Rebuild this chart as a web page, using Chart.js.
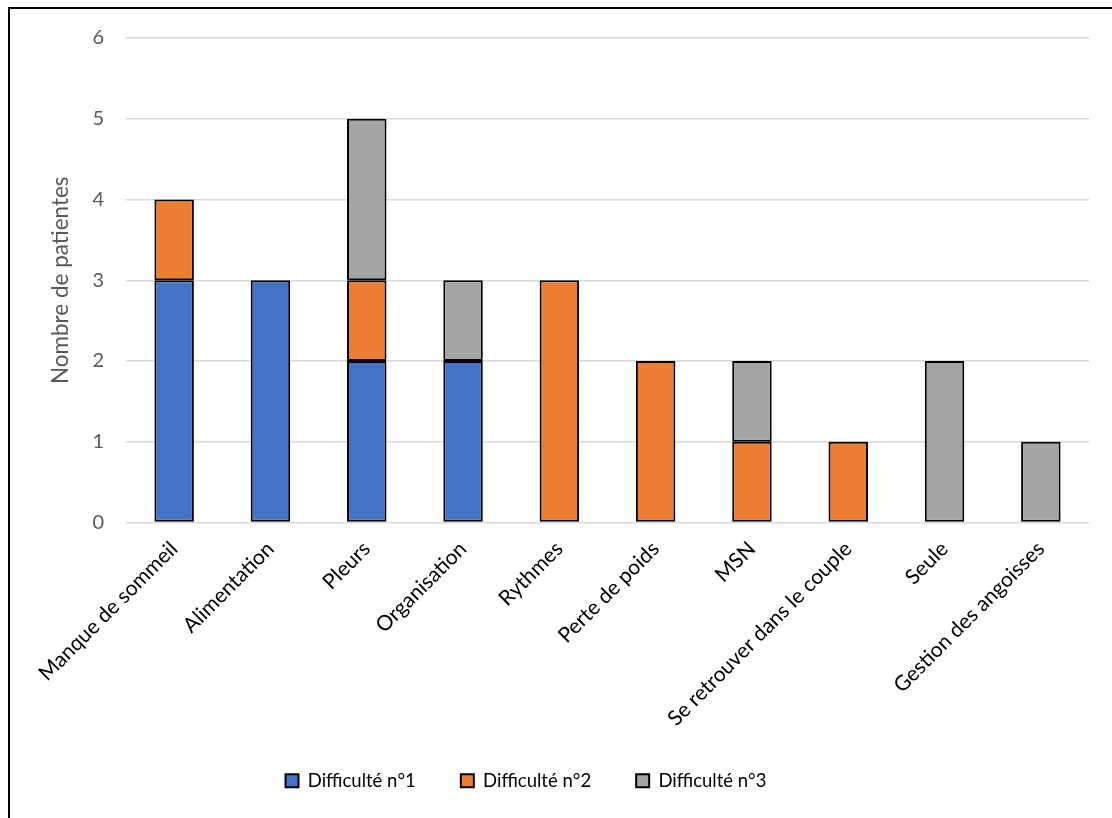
<!DOCTYPE html>
<html lang="fr">
<head>
<meta charset="utf-8">
<title>Difficultés rencontrées</title>
<script src="https://cdn.jsdelivr.net/npm/chart.js@4/dist/chart.umd.min.js"></script>
<style>
  html, body { margin: 0; padding: 0; background: #fff; overflow: hidden; }
  #frame {
    position: absolute; left: 8px; top: 7px; width: 1200px; height: 900px;
    border-left: 2px solid #000; border-top: 2px solid #000; box-sizing: border-box;
  }
  #wrap { position: absolute; left: 0; top: 0; width: 1112px; height: 818px; }
</style>
</head>
<body>
<div id="frame"></div>
<div id="wrap"><canvas id="chart"></canvas></div>
<script>
// Catégories de difficultés et nombre de patientes par rang de difficulté
const categories = [
  "Manque de sommeil", "Alimentation", "Pleurs", "Organisation", "Rythmes",
  "Perte de poids", "MSN", "Se retrouver dans le couple", "Seule", "Gestion des angoisses"
];
const difficulte1 = [3, 3, 2, 2, 0, 0, 0, 0, 0, 0];
const difficulte2 = [1, 0, 1, 0, 3, 2, 1, 1, 0, 0];
const difficulte3 = [0, 0, 2, 1, 0, 0, 1, 0, 2, 1];
const seriesNames = ["Difficulté n°1", "Difficulté n°2", "Difficulté n°3"];
const yTicks = [0, 1, 2, 3, 4, 5, 6];

const colors = ["#4472C4", "#ED7D31", "#A5A5A5"];
const FONT = "Lato, 'Open Sans', sans-serif";

// an empty segment is left out so no border line is drawn for it
const orNull = arr => arr.map(v => (v === 0 ? null : v));

const datasets = [difficulte1, difficulte2, difficulte3].map((vals, i) => ({
  label: seriesNames[i],
  data: orNull(vals),
  backgroundColor: colors[i],
  borderColor: "#000",
  borderWidth: 2,
  borderSkipped: false,
  barPercentage: 0.41,
  categoryPercentage: 1.0
}));

// long rotated category names may run past the axis box; let them draw freely,
// and centre the legend slightly left of the plot centre
const layoutTweaks = {
  id: "layoutTweaks",
  afterLayout(chart) {
    const lg = chart.legend;
    if (lg) { lg.left -= 42; lg.right -= 42; }
  },
  beforeDraw(chart) {
    const x = chart.scales.x;
    if (x) x._computeLabelArea = () => undefined;
  }
};

new Chart(document.getElementById("chart"), {
  type: "bar",
  data: { labels: categories, datasets },
  plugins: [layoutTweaks],
  options: {
    responsive: true,
    maintainAspectRatio: false,
    animation: false,
    layout: { padding: { top: 38, right: 23, left: 47, bottom: 18 } },
    plugins: {
      tooltip: { enabled: false },
      legend: {
        position: "bottom",
        labels: {
          font: { family: FONT, size: 18.5 },
          color: "#000",
          boxWidth: 13,
          boxHeight: 13,
          padding: 45,
          useBorderRadius: false
        }
      }
    },
    scales: {
      x: {
        stacked: true,
        grid: { display: false, drawTicks: false },
        border: { display: false },
        ticks: {
          font: { family: FONT, size: 21 },
          color: "#000",
          maxRotation: 45,
          minRotation: 45,
          padding: 14
        },
        afterFit(scale) { scale.height = 204; }
      },
      y: {
        stacked: true,
        min: 0,
        max: 6,
        afterBuildTicks(scale) { scale.ticks = yTicks.map(v => ({ value: v })); },
        grid: { color: "#D9D9D9", lineWidth: 1.5, drawTicks: false },
        border: { display: false },
        ticks: {
          font: { family: FONT, size: 20 },
          color: "#595959",
          padding: 22
        },
        title: {
          display: true,
          text: "Nombre de patientes",
          font: { family: FONT, size: 22.5 },
          color: "#595959",
          padding: { top: 0, bottom: 6 }
        },
        afterFit(scale) { scale.width = 79; }
      }
    }
  }
});
</script>
</body>
</html>
